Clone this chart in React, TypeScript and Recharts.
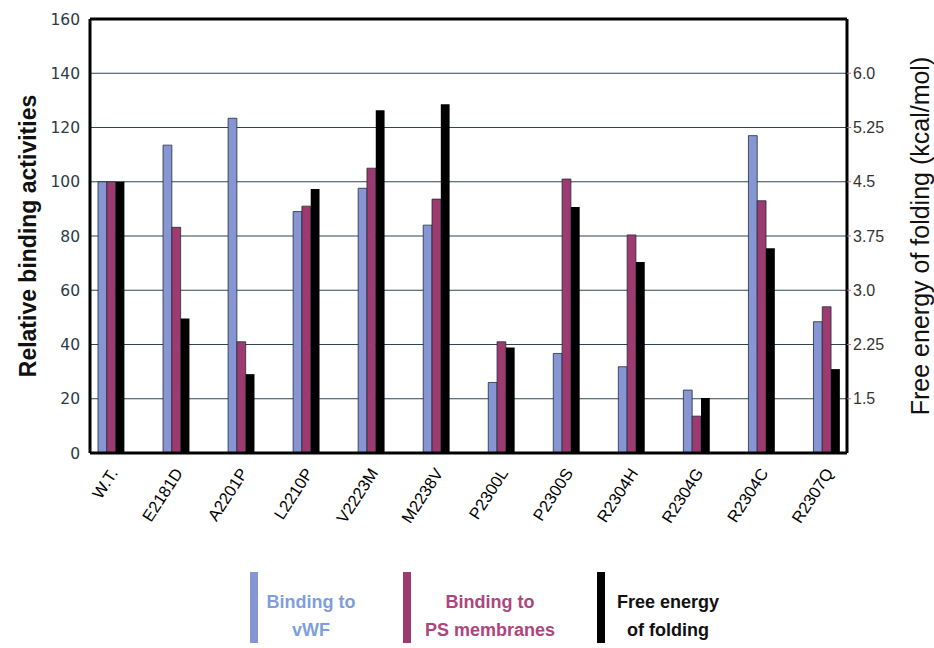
import { BarChart, Bar, XAxis, YAxis, CartesianGrid, ReferenceLine } from "recharts";

const mutants = [
  "W.T.",
  "E2181D",
  "A2201P",
  "L2210P",
  "V2223M",
  "M2238V",
  "P2300L",
  "P2300S",
  "R2304H",
  "R2304G",
  "R2304C",
  "R2307Q",
];
// relative binding activities (% of wild type)
const vwfBinding = [100, 113.5, 123.4, 89, 97.6, 84, 26, 36.7, 31.8, 23.2, 117, 48.4];
const psBinding = [100, 83.2, 41, 91, 105, 93.6, 41, 101, 80.4, 13.6, 93, 53.9];
// free energy of folding, kcal/mol
const foldingEnergy = [4.5, 2.61, 1.84, 4.4, 5.49, 5.57, 2.21, 4.15, 3.39, 1.51, 3.58, 1.91];

const leftTicks = [0, 20, 40, 60, 80, 100, 120, 140, 160];
const rightTicks = [1.5, 2.25, 3.0, 3.75, 4.5, 5.25, 6.0];
const rightTickLabels = ["1.5", "2.25", "3.0", "3.75", "4.5", "5.25", "6.0"];

const data = mutants.map((name, i) => ({
  name,
  vwf: vwfBinding[i],
  ps: psBinding[i],
  energy: foldingEnergy[i],
}));

const BLUE = "#8795d2";
const MAGENTA = "#9d3a6f";
const FONT = "'Liberation Sans', Arial, sans-serif";

// slanted mutant names under the bars
function SlantTick(props: any) {
  const { x, y, payload } = props;
  return (
    <text
      x={x + 7}
      y={y + 12}
      transform={`rotate(-57, ${x + 7}, ${y + 12})`}
      textAnchor="end"
      fontFamily={FONT}
      fontSize={16.5}
      fill="#000"
    >
      {payload.value}
    </text>
  );
}

function LegendBox() {
  const items = [
    { color: BLUE, text: "#7f9edc", barX: 250, cx: 311, lines: ["Binding to", "vWF"] },
    { color: MAGENTA, text: "#ac467c", barX: 403, cx: 490, lines: ["Binding to", "PS membranes"] },
    { color: "#000", text: "#111", barX: 597, cx: 668, lines: ["Free energy", "of folding"] },
  ];
  return (
    <svg width={934} height={83} style={{ position: "absolute", left: 0, top: 565 }}>
      {items.map((it) => (
        <g key={it.barX}>
          <rect x={it.barX} y={7} width={8} height={71} fill={it.color} />
          {it.lines.map((l, j) => (
            <text
              key={l}
              x={it.cx}
              y={43 + j * 28}
              textAnchor="middle"
              fontFamily={FONT}
              fontWeight="bold"
              fontSize={18}
              fill={it.text}
            >
              {l}
            </text>
          ))}
        </g>
      ))}
    </svg>
  );
}

export default function App() {
  return (
    <div style={{ position: "absolute", left: 0, top: 0, width: 934, height: 648, background: "#fff" }}>
      <BarChart
        width={934}
        height={648}
        data={data}
        margin={{ top: 19, right: 0, bottom: 135, left: 10 }}
        barGap={0}
        barSize={8.8}
      >
        <CartesianGrid yAxisId="left" vertical={false} stroke="#2e4652" strokeWidth={1.2} />
        <XAxis
          dataKey="name"
          interval={0}
          height={60}
          padding={{ left: -11, right: -12.5 }}
          tickLine={false}
          axisLine={{ stroke: "#000", strokeWidth: 3 }}
          tick={<SlantTick />}
        />
        <YAxis
          yAxisId="left"
          domain={[0, 160]}
          ticks={leftTicks}
          width={80}
          tickLine={false}
          tickMargin={4}
          axisLine={{ stroke: "#000", strokeWidth: 3 }}
          tick={{ fontSize: 15.5, fill: "#2b3a46", fontFamily: "'DejaVu Sans', Verdana, sans-serif" }}
          label={{
            value: "Relative binding activities",
            angle: -90,
            position: "insideLeft",
            offset: 18,
            style: { textAnchor: "middle", fontFamily: FONT, fontWeight: "bold", fontSize: 23, fill: "#111" },
          }}
        />
        <YAxis
          yAxisId="right"
          orientation="right"
          domain={[0.75, 6.75]}
          ticks={rightTicks}
          width={87}
          tickSize={4}
          tickLine={{ stroke: "#c06a98" }}
          axisLine={{ stroke: "#000", strokeWidth: 3 }}
          tickFormatter={(v: number) => rightTickLabels[rightTicks.indexOf(v)] ?? String(v)}
          tick={{ fontSize: 16, fill: "#333", fontFamily: FONT }}
          label={{
            value: "Free energy of folding (kcal/mol)",
            angle: -90,
            position: "insideRight",
            offset: 14,
            style: { textAnchor: "middle", fontFamily: FONT, fontSize: 25, fill: "#111" },
          }}
        />
        <ReferenceLine yAxisId="left" y={160} stroke="#000" strokeWidth={3} />
        <Bar yAxisId="left" dataKey="vwf" fill={BLUE} stroke="#1e2e40" strokeWidth={0.8} isAnimationActive={false} />
        <Bar yAxisId="left" dataKey="ps" fill={MAGENTA} stroke="#1e2e40" strokeWidth={0.8} isAnimationActive={false} />
        <Bar yAxisId="right" dataKey="energy" fill="#000" isAnimationActive={false} />
      </BarChart>
      <LegendBox />
    </div>
  );
}
